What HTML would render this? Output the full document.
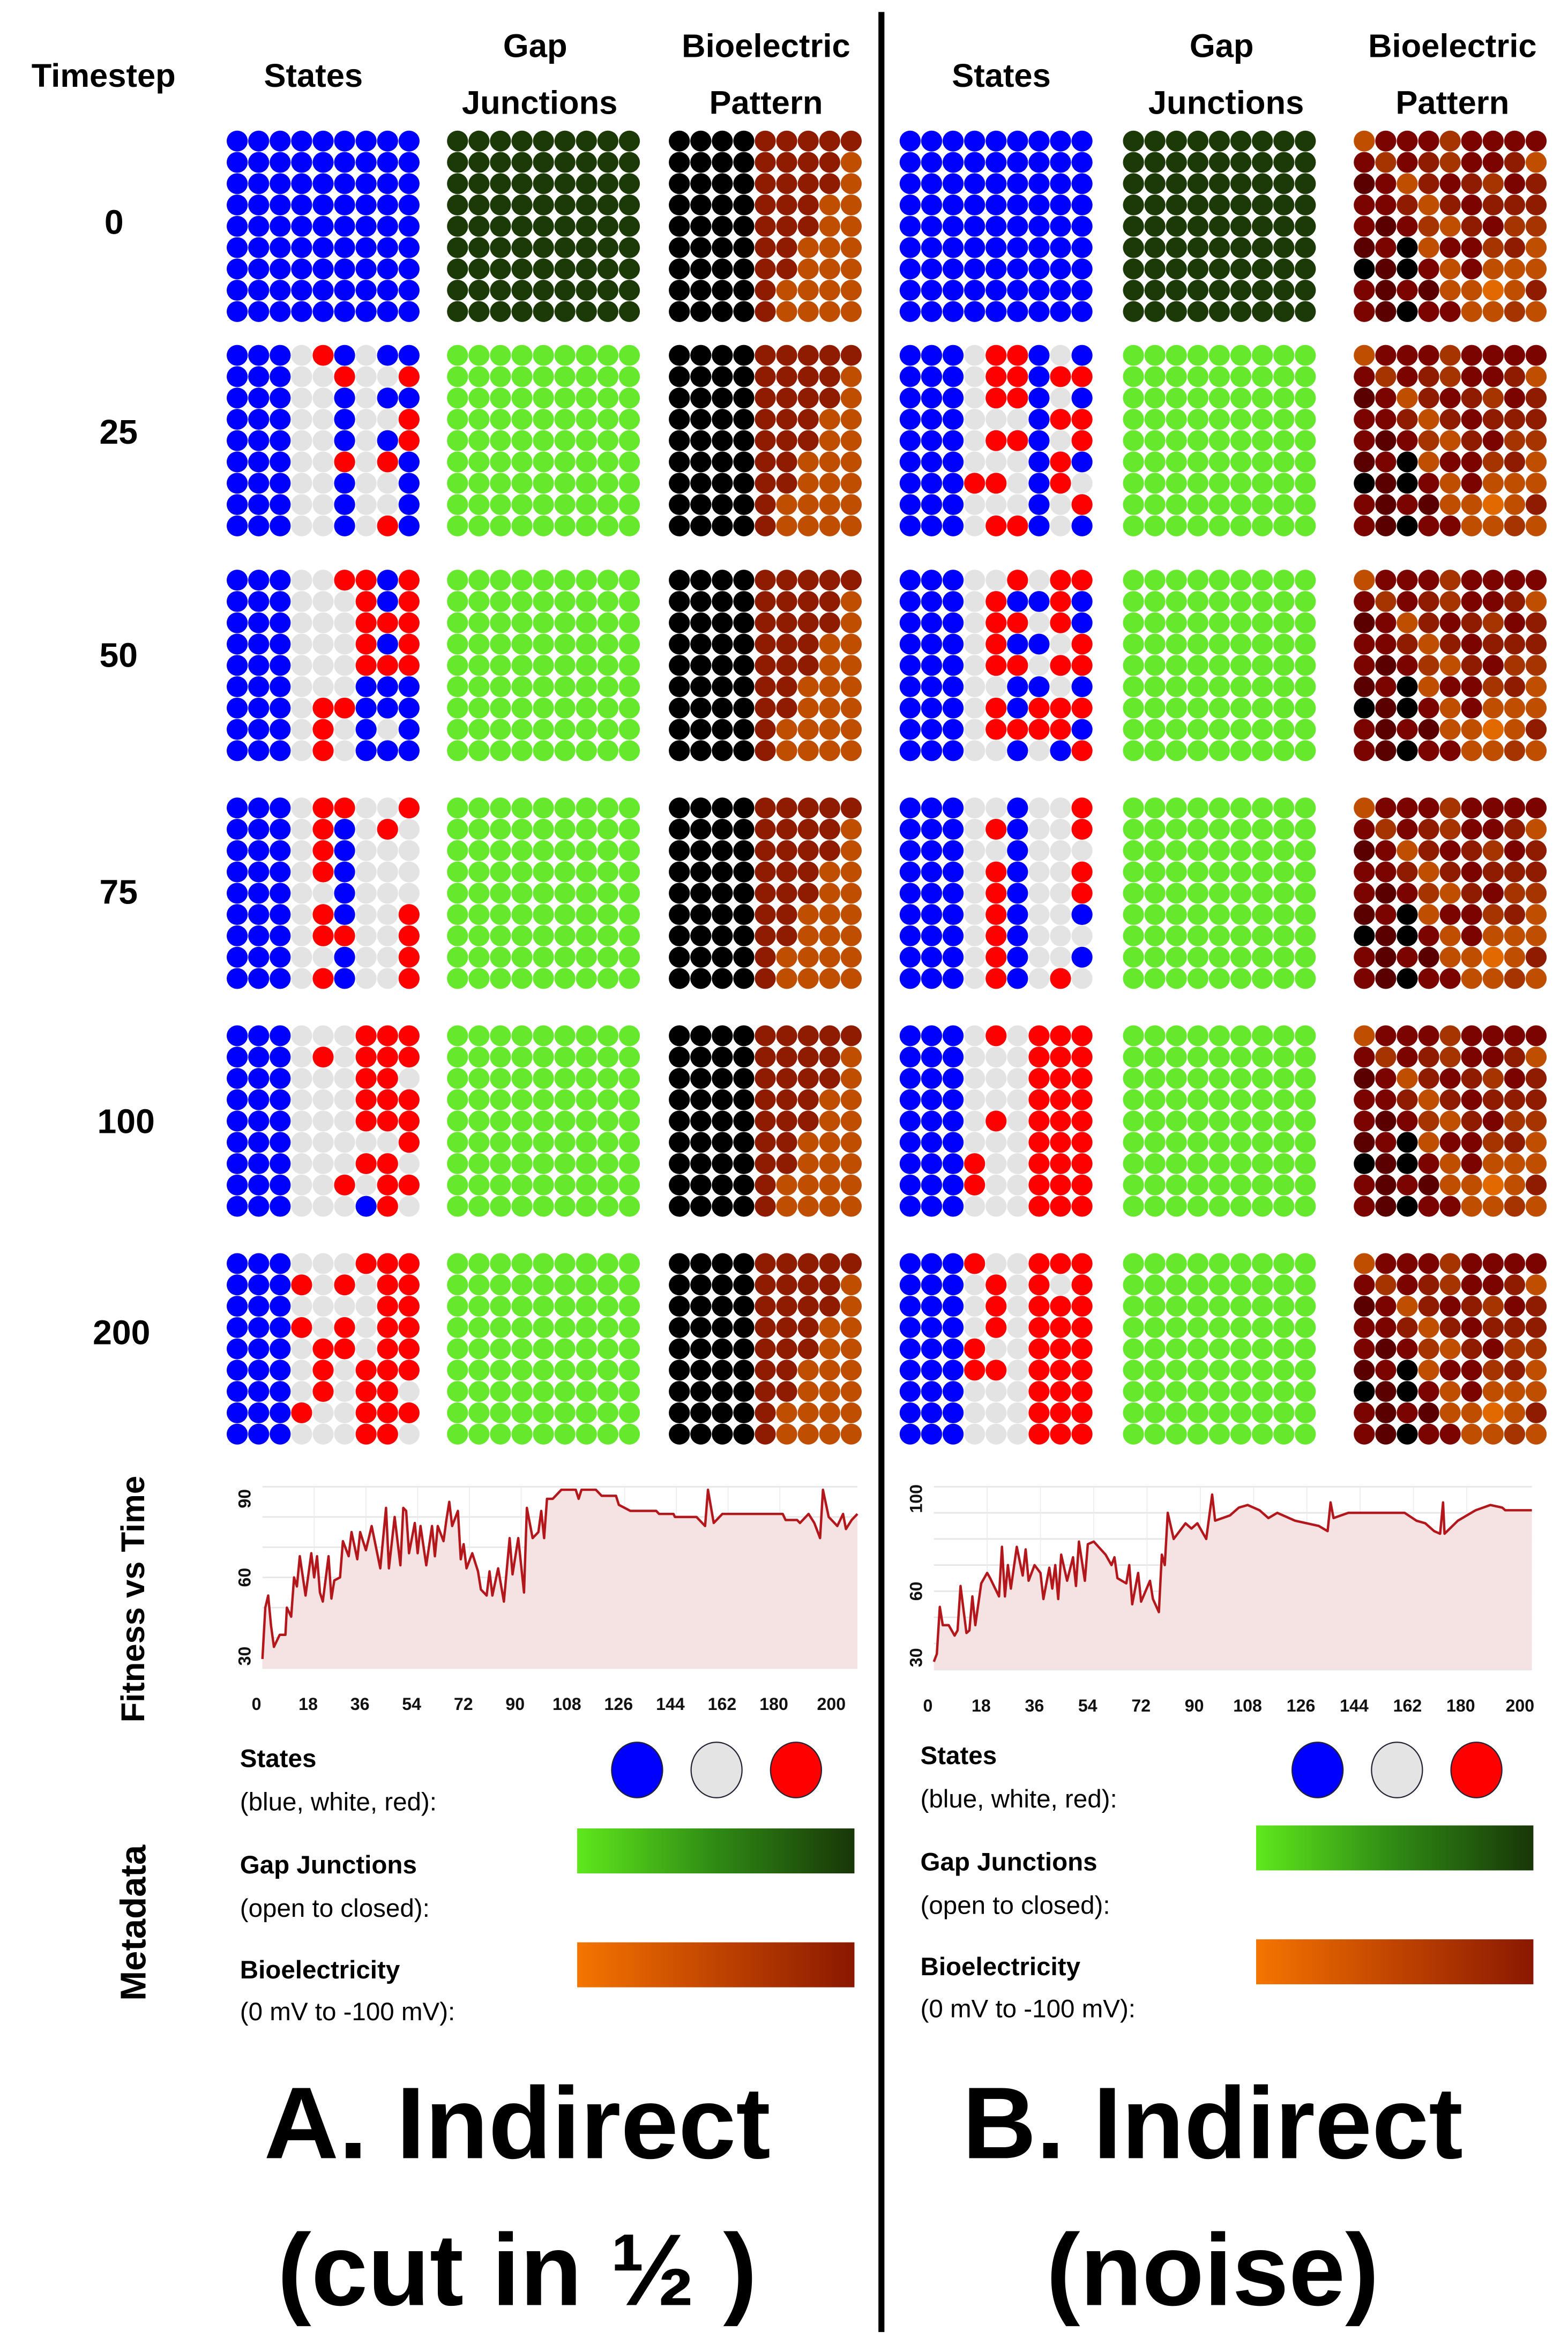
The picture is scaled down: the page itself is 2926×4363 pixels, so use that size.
<!DOCTYPE html>
<html><head><meta charset="utf-8"><title>Indirect fitness figure</title>
<style>
html,body{margin:0;padding:0;background:#fff;}
svg{display:block;font-family:"Liberation Sans",sans-serif;}
.hd{font-weight:bold;font-size:22px;fill:#000;text-anchor:middle;}
.ts{font-weight:bold;font-size:23px;fill:#000;text-anchor:middle;}
.tk{font-size:11.5px;fill:#111;text-anchor:middle;font-weight:bold;}
.lgb{font-weight:bold;font-size:17px;fill:#000;}
.lgr{font-size:17px;fill:#000;}
.big{font-weight:bold;font-size:68px;fill:#000;text-anchor:middle;}
</style></head>
<body>
<svg id="fig" width="2926" height="4363" viewBox="0 0 1046 1560" xmlns="http://www.w3.org/2000/svg">
<rect x="0" y="0" width="1046" height="1560" fill="#fff"/>
<defs>
<linearGradient id="gGJ" x1="0" x2="1" y1="0" y2="0"><stop offset="0" stop-color="#5fe81c"/><stop offset="0.5" stop-color="#2f8a14"/><stop offset="1" stop-color="#183608"/></linearGradient>
<linearGradient id="gBio" x1="0" x2="1" y1="0" y2="0"><stop offset="0" stop-color="#f57500"/><stop offset="0.5" stop-color="#c04400"/><stop offset="1" stop-color="#8a1800"/></linearGradient>
</defs>
<line x1="588" y1="8" x2="588" y2="1556" stroke="#000" stroke-width="4"/>
<g>
<text class="hd" x="69" y="58">Timestep</text>
<text class="hd" x="209" y="58">States</text>
<text class="hd" x="357" y="38">Gap</text>
<text class="hd" x="360" y="76">Junctions</text>
<text class="hd" x="511" y="38">Bioelectric</text>
<text class="hd" x="511" y="76">Pattern</text>
<text class="hd" x="668" y="58">States</text>
<text class="hd" x="815" y="38">Gap</text>
<text class="hd" x="818" y="76">Junctions</text>
<text class="hd" x="969" y="38">Bioelectric</text>
<text class="hd" x="969" y="76">Pattern</text>
</g>
<g>
<text class="ts" x="76" y="156">0</text>
<text class="ts" x="79" y="296">25</text>
<text class="ts" x="79" y="445">50</text>
<text class="ts" x="79" y="603">75</text>
<text class="ts" x="84" y="756">100</text>
<text class="ts" x="81" y="897">200</text>
</g>
<g id="grids"></g>
<text class="hd" transform="translate(96,1067) rotate(-90)">Fitness vs Time</text>
<text class="hd" transform="translate(97,1283) rotate(-90)" style="font-size:24px">Metadata</text>
<g id="chartA"></g>
<g id="chartB"></g>
<g>
<text class="lgb" x="160" y="1179">States</text>
<text class="lgr" x="160" y="1208">(blue, white, red):</text>
<text class="lgb" x="160" y="1250">Gap Junctions</text>
<text class="lgr" x="160" y="1279">(open to closed):</text>
<text class="lgb" x="160" y="1320">Bioelectricity</text>
<text class="lgr" x="160" y="1348">(0 mV to -100 mV):</text>
<ellipse cx="425" cy="1181" rx="17" ry="18.5" fill="#0000ff" stroke="#223" stroke-width="0.8"/>
<ellipse cx="478" cy="1181" rx="17" ry="18.5" fill="#e4e4e4" stroke="#223" stroke-width="0.8"/>
<ellipse cx="531" cy="1181" rx="17" ry="18.5" fill="#ff0000" stroke="#223" stroke-width="0.8"/>
<rect x="385" y="1220" width="185" height="30" fill="url(#gGJ)"/>
<rect x="385" y="1296" width="185" height="30" fill="url(#gBio)"/>
</g>
<g>
<text class="lgb" x="614" y="1177">States</text>
<text class="lgr" x="614" y="1206">(blue, white, red):</text>
<text class="lgb" x="614" y="1248">Gap Junctions</text>
<text class="lgr" x="614" y="1277">(open to closed):</text>
<text class="lgb" x="614" y="1318">Bioelectricity</text>
<text class="lgr" x="614" y="1346">(0 mV to -100 mV):</text>
<ellipse cx="879" cy="1181" rx="17" ry="18.5" fill="#0000ff" stroke="#223" stroke-width="0.8"/>
<ellipse cx="932" cy="1181" rx="17" ry="18.5" fill="#e4e4e4" stroke="#223" stroke-width="0.8"/>
<ellipse cx="985" cy="1181" rx="17" ry="18.5" fill="#ff0000" stroke="#223" stroke-width="0.8"/>
<rect x="838" y="1218" width="185" height="30" fill="url(#gGJ)"/>
<rect x="838" y="1294" width="185" height="30" fill="url(#gBio)"/>
</g>
<g>
<text class="big" x="345" y="1440" textLength="338" lengthAdjust="spacingAndGlyphs">A. Indirect</text>
<text class="big" x="345" y="1538" textLength="320" lengthAdjust="spacingAndGlyphs">(cut in ½ )</text>
<text class="big" x="809" y="1440" textLength="334" lengthAdjust="spacingAndGlyphs">B. Indirect</text>
<text class="big" x="809" y="1538" textLength="222" lengthAdjust="spacingAndGlyphs">(noise)</text>
</g>
</svg>
<script>
var NS="http://www.w3.org/2000/svg";
// ---------- grid data ----------
var statesA25=["BBBWRBWBB","BBBWWRWWR","BBBWWBWBB","BBBWWBWWR","BBBWWBWBR","BBBWWRWRB","BBBWWBWWB","BBBWWBWWB","BBBWWBWRB"];
var statesA50=["BBBWWRRBR","BBBWWWRBR","BBBWWWRRR","BBBWWWRBR","BBBWWWRRR","BBBWWWBBB","BBBWRRBBB","BBBWRWBWB","BBBWRWBBB"];
var statesA75=["BBBWRRWWR","BBBWRBWRW","BBBWRBWWW","BBBWRBWWW","BBBWWBWWW","BBBWRBWWR","BBBWRRWWR","BBBWWBWWR","BBBWRBWWR"];
var statesA100=["BBBWWWRRR","BBBWRWRRR","BBBWWWRRW","BBBWWWRRR","BBBWWWRRR","BBBWWWWWR","BBBWWWRRW","BBBWWRWRR","BBBWWWBRW"];
var statesA200=["BBBWWWRRR","BBBRWRWRR","BBBWWWWRR","BBBRWRWRR","BBBWRRWRR","BBBWRWRRR","BBBWRWRRW","BBBRWWRRR","BBBWWWRRW"];
var statesB25=["BBBWRRBWB","BBBWRRBRR","BBBWRRBWB","BBBWWWBRR","BBBWRRBWR","BBBWWWBRB","BBBRRWBRW","BBBWWWBWR","BBBWRRBWB"];
var statesB50=["BBBWWRWRR","BBBWRBBRB","BBBWRRWRB","BBBWRBBWR","BBBWRRWRR","BBBWWBBWB","BBBWRBRRR","BBBWRRRRB","BBBWWBWBR"];
var statesB75=["BBBWWBWWR","BBBWRBWWR","BBBWWBWWW","BBBWRBWWR","BBBWRBWWR","BBBWRBWWB","BBBWRBWWW","BBBWRBWWB","BBBWRBWRW"];
var statesB100=["BBBWRWRRR","BBBWWWRRR","BBBWWWRRR","BBBWWWRRR","BBBWRWRRR","BBBWWWRRR","BBBRWWRRR","BBBRWWRRR","BBBWWWRRR"];
var statesB200=["BBBRWWRRR","BBBWRWRWR","BBBWRWRRR","BBBWRWRRR","BBBRWWRRR","BBBRRWRRR","BBBWWWRRR","BBBWWWRRR","BBBWWWRRR"];
var statesAll0=["BBBBBBBBB","BBBBBBBBB","BBBBBBBBB","BBBBBBBBB","BBBBBBBBB","BBBBBBBBB","BBBBBBBBB","BBBBBBBBB","BBBBBBBBB"];
var bioA=["000033333","000033335","000033335","000033355","000033355","000033555","000033555","000035555","000035555"];
var bioB=["522242222","242342235","125323423","223532333","212453244","120522435","010252555","212155653","210225545"];
var timesteps=["0","25","50","75","100","200"];
// ---------- layout ----------
var rowTops=[87,230,380,532,684,836];
var colLeftA=[151,298,446], colLeftB=[600,749,903];
var stateColor={B:"#0000ff",W:"#e3e3e3",R:"#ff0000"};
var bioColor=["#000000","#5a0000","#7c0400","#8f1c00","#a53400","#c04e00","#e26800"];
var grids=document.getElementById("grids");
function drawGrid(name,left,top,colorFn){
  var g=document.createElementNS(NS,"g");
  
  
  var pitchX=129/9,pitchY=128/9;
  for(var r=0;r<9;r++)for(var c=0;c<9;c++){
    var e=document.createElementNS(NS,"ellipse");
    e.setAttribute("cx",(left+pitchX*(c+0.5)).toFixed(2));
    e.setAttribute("cy",(top+pitchY*(r+0.5)).toFixed(2));
    e.setAttribute("rx",(pitchX*0.49).toFixed(2));
    e.setAttribute("ry",(pitchY*0.49).toFixed(2));
    e.setAttribute("fill",colorFn(r,c));
    
    
    g.appendChild(e);
  }
  grids.appendChild(g);
}
var statesA=[statesAll0,statesA25,statesA50,statesA75,statesA100,statesA200];
var statesB=[statesAll0,statesB25,statesB50,statesB75,statesB100,statesB200];
for(var i=0;i<6;i++){
  (function(i){
    var top=rowTops[i];
    var gj=i===0?"#1c3a08":"#66e82c";
    drawGrid("states-grid-a-t"+timesteps[i],colLeftA[0],top,function(r,c){return stateColor[statesA[i][r][c]];});
    drawGrid("gap-junction-grid-a-t"+timesteps[i],colLeftA[1],top,function(){return gj;});
    drawGrid("bio-grid-a-t"+timesteps[i],colLeftA[2],top,function(r,c){return bioColor[+bioA[r][c]];});
    drawGrid("states-grid-b-t"+timesteps[i],colLeftB[0],top,function(r,c){return stateColor[statesB[i][r][c]];});
    drawGrid("gap-junction-grid-b-t"+timesteps[i],colLeftB[1],top,function(){return gj;});
    drawGrid("bio-grid-b-t"+timesteps[i],colLeftB[2],top,function(r,c){return bioColor[+bioB[r][c]];});
  })(i);
}
// ---------- chart data ----------
var xTickLabels=[0,18,36,54,72,90,108,126,144,162,180,200];
var yTicksA=[30,60,90];
var yTicksB=[30,60,100];
var fitATime=[0,1,2,3,4,6,8,8.5,10,11,12,13,15,17,18,19,20,21,23,24,25,27,28,30,31,33,34,36,38,41,43,44,46,48,49,50,51,53,54,55,57,59,60,61,63,64,65,66,68,69,70,71,73,75,76,78,79,80,82,84,86,87,89,91,92,94,96,97,98,99,101,104,109,110,111,116,118,123,124,128,137,138,143,143.5,151,154,155,157,160,181,182,186,187,190,192,194,195,197,199,200,202,203,205,207];
var fitAValue=[33,50,54,44,37,41,41,50,47,60,57,67,54,68,60,67,55,52,67,53,59,60,72,67,75,66,75,69,77,63,83,63,80,64,83,82,68,78,68,77,64,77,67,77,72,79,85,77,82,66,71,63,68,62,56,54,62,54,63,52,73,61,73,55,83,73,75,82,73,86,86,89,89,86,89,89,87,87,84,82,82,81,81,80,80,77,89,78,81,81,79,79,78,81,78,73,89,80,78,77,81,76,79,81];
var fitBTime=[0,1,2,3,5,7,8,9,11,12,13,14,16,18,19,22,23,24,25,26,28,30,31,32,34,36,37,39,40,41,42,43,45,47,48,49,51,52,54,58,60,61,62,65,66,67,69,70,73,74,76,77,78,79,81,85,87,89,92,94,95,100,103,106,110,113,116,122,126,130,133,134,135,140,159,163,166,169,171,172,172.5,177,183,188,192,193,202];
var fitBValue=[33,36,54,47,47,43,45,62,44,45,58,47,63,67,65,58,77,58,70,61,77,66,76,64,70,67,57,69,61,70,57,74,64,73,62,79,64,78,79,74,70,73,65,63,70,55,67,56,64,57,52,74,70,90,80,86,84,86,80,97,87,89,92,93,91,88,90,87,86,85,83,94,88,90,90,87,86,83,82,94,82,87,91,93,92,91,91];
// ---------- chart drawing ----------
function mk(tag,attrs,name,parent){
  var e=document.createElementNS(NS,tag);
  for(var k in attrs)e.setAttribute(k,attrs[k]);
  
  
  parent.appendChild(e);return e;
}
function drawChart(gid,suffix,x0,x1,yTop,yBot,vMin,vMax,tMax,times,values,yTicks){
  var g=document.getElementById(gid);
  function sx(t){return x0+(t/tMax)*(x1-x0);}
  function sy(v){return yBot-(v-vMin)/(vMax-vMin)*(yBot-yTop);}
  mk("rect",{x:x0,y:yTop,width:x1-x0,height:yBot-yTop,fill:"#fff"},"plot-area-"+suffix,g);
  for(var v=vMin;v<=vMax+0.001;v+=10){
    mk("line",{x1:x0,x2:x1,y1:sy(v),y2:sy(v),stroke:"#e6e6e6","stroke-width":1},"y-gridline-"+suffix,g);
  }
  for(var i=1;i<xTickLabels.length-1;i++){
    var xv=sx(xTickLabels[i]);
    mk("line",{x1:xv,x2:xv,y1:yTop,y2:yBot,stroke:"#ececec","stroke-width":0.6},"x-gridline-"+suffix,g);
  }
  var pts=[];
  for(var j=0;j<times.length;j++)pts.push(sx(times[j]).toFixed(2)+","+sy(values[j]).toFixed(2));
  var area=sx(times[0]).toFixed(2)+","+yBot+" "+pts.join(" ")+" "+sx(times[times.length-1]).toFixed(2)+","+yBot;
  mk("polygon",{points:area,fill:"#f5e2e2"},"fitness-area-"+suffix,g);
  mk("polyline",{points:pts.join(" "),fill:"none",stroke:"#b3171b","stroke-width":1.6,"stroke-linejoin":"round"},"fitness-line-"+suffix,g);
  for(var k=0;k<xTickLabels.length;k++){
    var lv=xTickLabels[k];
    var t=mk("text",{x:sx(lv)-4,y:yBot+28,"class":"tk"},"x-tick-label-"+suffix,g);
    t.textContent=String(lv);
  }
  for(var m=0;m<yTicks.length;m++){
    var yv=yTicks[m];
    var yy=Math.min(Math.max(sy(yv),yTop+8),yBot-8);
    var tt=mk("text",{transform:"translate("+(x0-8)+","+yy+") rotate(-90)","class":"tk"},"y-tick-label-"+suffix,g);
    tt.textContent=String(yv);
  }
}
drawChart("chartA","a",175,572,992,1113,30,90,207,fitATime,fitAValue,yTicksA);
drawChart("chartB","b",623,1022,992,1114,30,100,202,fitBTime,fitBValue,yTicksB);
</script>
</body></html>
